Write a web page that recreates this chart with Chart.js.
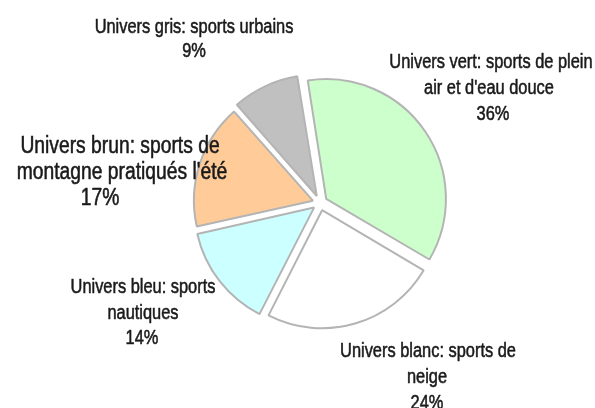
<!DOCTYPE html>
<html>
<head>
<meta charset="utf-8">
<script src="https://cdn.jsdelivr.net/npm/chart.js@4/dist/chart.umd.min.js"></script>
<style>
  html, body { margin: 0; padding: 0; background: #ffffff; }
  #wrap { width: 595px; height: 408px; position: relative; }
</style>
</head>
<body>
<div id="wrap"><canvas id="c" width="595" height="408"></canvas></div>
<script>
// ---- data ----
const categories = [
  ["Univers vert: sports de plein", "air et d'eau douce"],
  ["Univers blanc: sports de", "neige"],
  ["Univers bleu: sports", "nautiques"],
  ["Univers brun: sports de", "montagne pratiqués l'été"],
  ["Univers gris: sports urbains"]
];
const values = [36, 24, 14, 17, 9];
const colors = ["#ccffcc", "#ffffff", "#ccffff", "#ffcc99", "#c0c0c0"];

// label layout (text placement, not data)
const labelLayout = [
  { x: 491, y: 61, size: 20, gap: 26, dx: [0, -2, 2] },
  { x: 428, y: 350, size: 20, gap: 26, dx: [0, -1, -1] },
  { x: 143, y: 286, size: 20, gap: 25.5, dx: [0, 0, -1] },
  { x: 120, y: 145, size: 23.5, gap: 26, dx: [0, 2, -20] },
  { x: 194, y: 26, size: 20, gap: 24, dx: [0, 0] }
];
const condense = 0.82;

const outsideLabels = {
  id: 'outsideLabels',
  afterDraw(chart) {
    const ctx = chart.ctx;
    const ds = chart.data.datasets[0];
    const total = ds.data.reduce((a, b) => a + b, 0);
    ctx.save();
    ctx.fillStyle = '#1a1a1a';
    ctx.strokeStyle = '#1a1a1a';
    ctx.lineWidth = 0.55;
    ctx.lineJoin = 'round';
    ctx.textAlign = 'center';
    ctx.textBaseline = 'alphabetic';
    chart.data.labels.forEach((lab, i) => {
      const L = labelLayout[i];
      const lines = lab.concat([Math.round(ds.data[i] / total * 100) + '%']);
      ctx.font = L.size + 'px "Liberation Sans", Arial, sans-serif';
      lines.forEach((t, k) => {
        const y = L.y + k * L.gap + L.size * 0.358;
        ctx.save();
        ctx.translate(L.x + (L.dx[k] || 0), y);
        ctx.scale(condense, 1);
        ctx.fillText(t, 0, 0);
        ctx.strokeText(t, 0, 0);
        ctx.restore();
      });
    });
    ctx.restore();
  }
};

new Chart(document.getElementById('c'), {
  type: 'pie',
  data: {
    labels: categories,
    datasets: [{
      data: values,
      backgroundColor: colors,
      borderColor: '#b4b4b4',
      borderWidth: 2,
      offset: 30
    }]
  },
  options: {
    responsive: false,
    animation: false,
    rotation: -9,
    radius: 118,
    layout: { padding: { left: 200, right: 155, top: 55, bottom: 57 } },
    plugins: {
      legend: { display: false },
      tooltip: { enabled: false },
      title: { display: false }
    }
  },
  plugins: [outsideLabels]
});
</script>
</body>
</html>
